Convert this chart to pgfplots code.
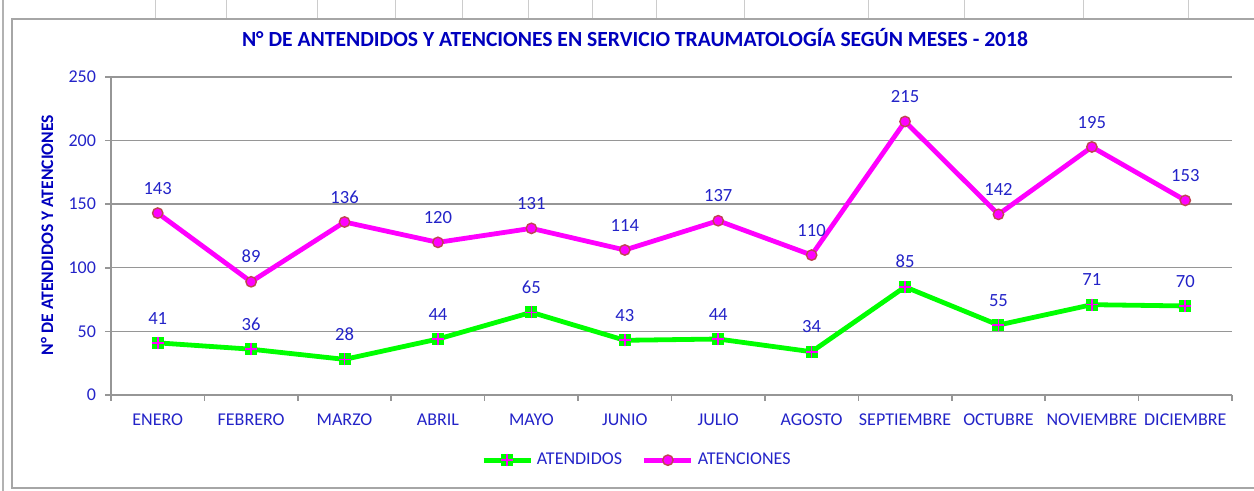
\documentclass[border=0pt]{standalone}
\usepackage{pgfplots}
\pgfplotsset{compat=1.18}
\usepackage{fontspec}
\setmainfont{Carlito}

\definecolor{titleblue}{RGB}{0,0,190}
\definecolor{numblue}{RGB}{35,35,200}
\definecolor{gridgray}{RGB}{150,150,150}
\definecolor{limegreen}{RGB}{0,255,0}
\definecolor{pinkline}{RGB}{255,0,255}
\definecolor{markedge}{RGB}{190,70,80}

\pgfdeclareplotmark{sqplus}{%
  \pgfsetfillcolor{limegreen}%
  \pgfpathrectangle{\pgfqpoint{-\pgfplotmarksize}{-\pgfplotmarksize}}{\pgfqpoint{2\pgfplotmarksize}{2\pgfplotmarksize}}%
  \pgfusepathqfill
  \pgfsetstrokecolor{pinkline}\pgfsetlinewidth{0.8pt}%
  \pgfpathmoveto{\pgfqpoint{-\pgfplotmarksize}{0pt}}\pgfpathlineto{\pgfqpoint{\pgfplotmarksize}{0pt}}%
  \pgfpathmoveto{\pgfqpoint{0pt}{-\pgfplotmarksize}}\pgfpathlineto{\pgfqpoint{0pt}{\pgfplotmarksize}}%
  \pgfusepathqstroke}

\begin{document}
\begin{tikzpicture}[x=1pt,y=1pt]
\useasboundingbox (0,0) rectangle (627,245.5);
% sheet cells behind the chart
\foreach \gx in {77.5,113,158.5,197.5,231,264,296,328,372,434,482,541.5,594}
  \draw[gray!40, line width=0.5pt] (\gx,236) -- (\gx,245.5);
\draw[gray!60, line width=0.6pt] (1.5,0) -- (1.5,245.5);
% chart area frame
\draw[gray!70, line width=0.7pt] (627,236) -- (6,236) -- (6,1.5) -- (627,1.5);

\begin{axis}[
  at={(55.5pt,48pt)}, anchor=south west,
  scale only axis, width=560.5pt, height=159pt,
  xmin=-0.5, xmax=11.5, ymin=0, ymax=250,
  ytick={0,50,...,250},
  xtick={-0.5,0.5,...,11.5},
  x tick label as interval,
  xticklabels={ENERO,FEBRERO,MARZO,ABRIL,MAYO,JUNIO,JULIO,AGOSTO,SEPTIEMBRE,OCTUBRE,NOVIEMBRE,DICIEMBRE},
  axis x line*=bottom, axis y line*=left,
  axis line style={gridgray, line width=0.8pt},
  tick style={gridgray, line width=0.8pt},
  tick align=outside, major tick length=3pt,
  ymajorgrids, grid style={gridgray, line width=0.7pt},
  ticklabel style={font=\fontsize{9}{10}\selectfont, text=numblue},
  /pgf/number format/assume math mode=true,
  yticklabel style={xshift=-1pt},
  xticklabel style={yshift=-3pt},
  nodes near coords,
  every node near coord/.append style={font=\fontsize{9.3}{10}\selectfont, text=numblue, anchor=south, inner sep=0pt, yshift=9pt},
  legend columns=2,
  legend style={at={(axis description cs:0.47,-0.205)}, anchor=center, draw=none, fill=none,
    font=\fontsize{9}{10}\selectfont, text=numblue,
    /tikz/every even column/.append style={column sep=8pt}},
  legend image code/.code={\draw[mark repeat=2,mark phase=2,#1] plot coordinates {(0pt,0pt)(11.75pt,0pt)(23.5pt,0pt)};},
  legend cell align=left,
  clip=false,
]
\addplot[limegreen, line width=2.4pt, mark=sqplus, mark size=3pt, mark options={solid}] coordinates {
  (0,41)(1,36)(2,28)(3,44)(4,65)(5,43)(6,44)(7,34)(8,85)(9,55)(10,71)(11,70)};
\addplot[pinkline, line width=2.4pt, mark=*, mark size=2.6pt, mark options={fill=pinkline, draw=markedge, line width=0.7pt}] coordinates {
  (0,143)(1,89)(2,136)(3,120)(4,131)(5,114)(6,137)(7,110)(8,215)(9,142)(10,195)(11,153)};
\legend{ATENDIDOS, ATENCIONES}
\end{axis}

\node[font=\bfseries\fontsize{10.8}{12}\selectfont, text=titleblue] at (317.5,226.5)
  {N° DE ANTENDIDOS Y ATENCIONES EN SERVICIO TRAUMATOLOGÍA SEGÚN MESES - 2018};
\node[font=\bfseries\fontsize{8.8}{10}\selectfont, text=titleblue, rotate=90] at (23.5,128)
  {N° DE ATENDIDOS Y ATENCIONES};
\end{tikzpicture}
\end{document}
